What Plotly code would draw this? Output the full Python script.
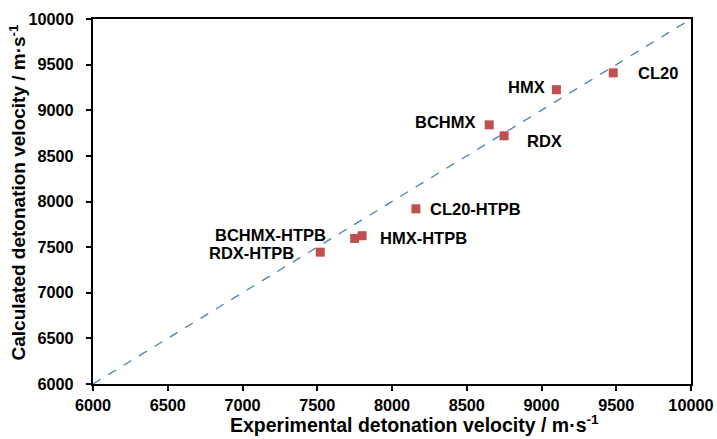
import plotly.graph_objects as go

names = ["CL20", "HMX", "BCHMX", "RDX", "CL20-HTPB", "HMX-HTPB", "BCHMX-HTPB", "RDX-HTPB"]
experimental = [9480, 9100, 8650, 8750, 8160, 7800, 7750, 7520]
calculated = [9410, 9225, 8840, 8720, 7920, 7625, 7595, 7445]
ideal_line = [6000, 10000]
tick_vals = [6000, 6500, 7000, 7500, 8000, 8500, 9000, 9500, 10000]
x_tick_text = [str(v) for v in tick_vals]
y_tick_text = [str(v) + "\u00a0\u00a0" for v in tick_vals]
x_title = "Experimental detonation velocity / m·s<sup>-1</sup>"
y_title = "Calculated detonation velocity / m·s<sup>-1</sup>"

FONT = "Liberation Sans, Arial"

# label placement (anchor, xshift, yshift) per point
label_pos = {
    "CL20": ("left", 23, 0),
    "HMX": ("right", -9, 3),
    "BCHMX": ("right", -11, 3),
    "RDX": ("left", 21, -5),
    "CL20-HTPB": ("left", 12, 0),
    "HMX-HTPB": ("left", 16, -2),
    "BCHMX-HTPB": ("right", -27, 3),
    "RDX-HTPB": ("right", -24, -1),
}

fig = go.Figure()
fig.add_trace(go.Scatter(x=ideal_line, y=ideal_line, mode="lines",
                         line=dict(color="#4a7ebb", width=1.3, dash="dash"),
                         hoverinfo="skip", showlegend=False))
fig.add_trace(go.Scatter(x=experimental, y=calculated, mode="markers",
                         marker=dict(symbol="square", size=9, color="#c0504d"),
                         text=names, showlegend=False))

for n, xv, yv in zip(names, experimental, calculated):
    anc, dx, dy = label_pos[n]
    fig.add_annotation(x=xv, y=yv, text=n, showarrow=False, xanchor=anc,
                       xshift=dx, yshift=dy,
                       font=dict(family=FONT, size=16.5, color="black", weight="bold"))

axis_common = dict(range=[6000, 10000], tickvals=tick_vals,
                   ticks="outside", ticklen=5, automargin=False,
                   tickwidth=1.5, tickcolor="black", showline=True, linecolor="black",
                   linewidth=2, mirror=True, showgrid=False, zeroline=False,
                   tickfont=dict(family=FONT, size=16.3, color="black", weight="bold"))

fig.update_xaxes(**axis_common, ticktext=x_tick_text)
fig.update_yaxes(**axis_common, ticktext=y_tick_text)

fig.add_annotation(text=x_title, xref="paper", yref="paper", x=0.5, y=0,
                   xanchor="center", yanchor="middle", xshift=22, yshift=-40,
                   showarrow=False,
                   font=dict(family=FONT, size=19.5, color="black", weight="bold"))
fig.add_annotation(text=y_title, xref="paper", yref="paper", x=0, y=0.5,
                   xanchor="center", yanchor="middle", xshift=-76, yshift=9,
                   textangle=-90, showarrow=False,
                   font=dict(family=FONT, size=19, color="black", weight="bold"))

fig.update_layout(width=717, height=439, margin=dict(l=93, r=26, t=19, b=55),
                  plot_bgcolor="white", paper_bgcolor="white")

fig.write_html("out.html")
